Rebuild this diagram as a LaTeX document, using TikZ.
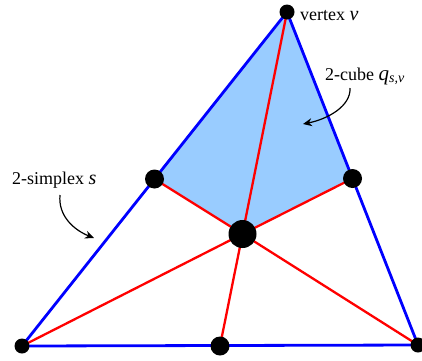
\documentclass[tikz,border=0pt]{standalone}
\usepackage{fontspec}
\setmainfont{Liberation Serif}
\usetikzlibrary{arrows.meta}
\begin{document}
\begin{tikzpicture}[x=1pt,y=-1pt,
  dot/.style={circle,fill=black,inner sep=0pt,minimum size=#1},
  edge/.style={blue,line width=2.8pt},
  spoke/.style={red,line width=2.3pt},
  lab/.style={font=\fontsize{18}{20}\selectfont,inner sep=0pt,anchor=base west},
  callout/.style={line width=1.2pt,-{Stealth[length=9pt,width=8pt,inset=3pt]}}]
\useasboundingbox (0,0) rectangle (422,360);
\coordinate (A) at (22,346);
\coordinate (B) at (418,345);
\coordinate (T) at (287,12);
\coordinate (AT) at (154.5,179);
\coordinate (BT) at (352.5,178.5);
\coordinate (AB) at (220,346);
\coordinate (G) at (242.5,234);
\fill[fill={rgb,255:red,153;green,204;blue,255}] (T) -- (AT) -- (G) -- (BT) -- cycle;
\draw[spoke] (G) -- (T);
\draw[spoke] (G) -- (A);
\draw[spoke] (G) -- (B);
\draw[spoke] (G) -- (AT);
\draw[spoke] (G) -- (BT);
\draw[spoke] (G) -- (AB);
\draw[edge] (A) -- (B) -- (T) -- cycle;
\node[dot=15pt] (nT) at (T) {};
\node[dot=15pt] (nA) at (A) {};
\node[dot=15pt] (nB) at (B) {};
\node[dot=19pt] (nAT) at (AT) {};
\node[dot=19pt] (nBT) at (BT) {};
\node[dot=19pt] (nAB) at (AB) {};
\node[dot=28pt] (nG) at (G) {};
\node[lab] (lv) at (300,20) {vertex {\fontsize{20}{20}\selectfont\textit{v}}};
\node[lab] (lq) at (325,80) {2-cube {\fontsize{21}{20}\selectfont\textit{q}}\raisebox{-0.3ex}{\fontsize{14}{14}\selectfont\textit{s,v}}};
\node[lab] (ls) at (12,184) {2-simplex {\fontsize{20}{20}\selectfont\textit{s}}};
\coordinate (q0) at (350,88);
\coordinate (q1) at (303,124);
\coordinate (s0) at (60,195);
\coordinate (s1) at (94,238);
\draw[callout] (q0) .. controls (351,106) and (328,119) .. (q1);
\draw[callout] (s0) .. controls (58,216) and (74,230) .. (s1);
\end{tikzpicture}
\end{document}
